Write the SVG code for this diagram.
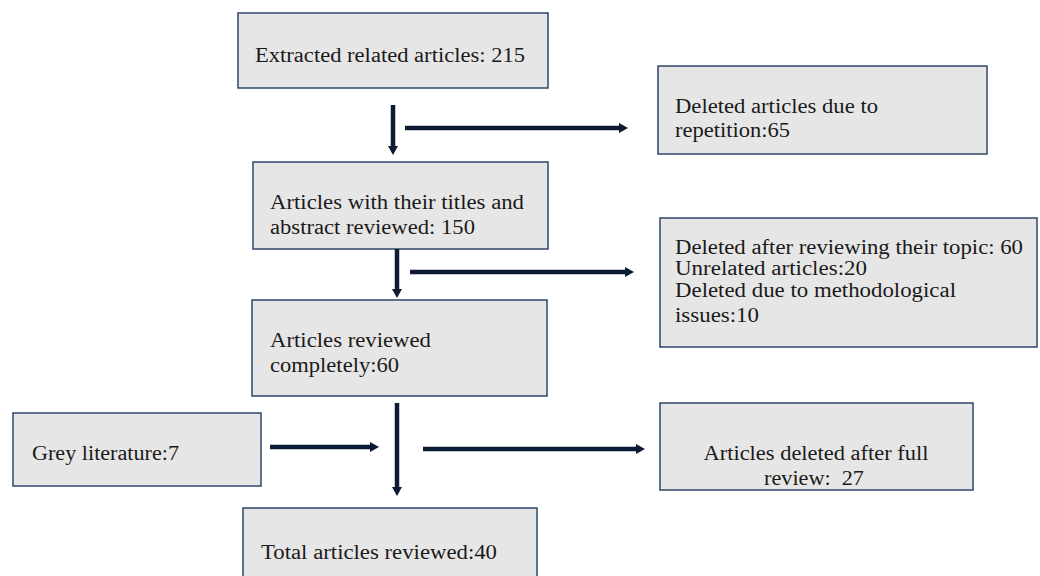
<svg xmlns="http://www.w3.org/2000/svg" width="1040" height="576" viewBox="0 0 1040 576">
<style>
.box{fill:#e7e6e6;stroke:#2f4668;stroke-width:1.5}
.t{font-family:'Liberation Serif','Times New Roman',Tinos,serif;font-size:20px;fill:#1a1a1a}
.c{text-anchor:middle}
.arr{stroke:#0d1a33;stroke-width:4.5;fill:none;marker-end:url(#ah)}
</style>
<defs>
<marker id="ah" markerUnits="userSpaceOnUse" markerWidth="12" markerHeight="12" viewBox="0 0 12 12" refX="3" refY="6" orient="auto">
<path d="M0,1 L9,6 L0,11 Z" fill="#0d1a33"/>
</marker>
</defs>
<rect width="1040" height="576" fill="#ffffff"/>
<g font-family="Liberation Serif, serif">
<g id="n1">
<rect class="box" x="238" y="13" width="310" height="75"/>
<text class="t" x="255" y="62" textLength="270" lengthAdjust="spacingAndGlyphs">Extracted related articles: 215</text>
</g>
<g id="n2">
<rect class="box" x="658" y="66" width="329" height="88"/>
<text class="t" x="675" y="113" textLength="203" lengthAdjust="spacingAndGlyphs">Deleted articles due to</text>
<text class="t" x="675" y="137" textLength="115" lengthAdjust="spacingAndGlyphs">repetition:65</text>
</g>
<g id="n3">
<rect class="box" x="253" y="162" width="295" height="87"/>
<text class="t" x="270" y="209" textLength="254" lengthAdjust="spacingAndGlyphs">Articles with their titles and</text>
<text class="t" x="270" y="234" textLength="205" lengthAdjust="spacingAndGlyphs">abstract reviewed: 150</text>
</g>
<g id="n4">
<rect class="box" x="660" y="218" width="377" height="129"/>
<text class="t" x="675" y="254" textLength="348" lengthAdjust="spacingAndGlyphs">Deleted after reviewing their topic: 60</text>
<text class="t" x="675" y="275" textLength="192" lengthAdjust="spacingAndGlyphs">Unrelated articles:20</text>
<text class="t" x="675" y="297" textLength="281" lengthAdjust="spacingAndGlyphs">Deleted due to methodological</text>
<text class="t" x="675" y="322" textLength="84" lengthAdjust="spacingAndGlyphs">issues:10</text>
</g>
<g id="n5">
<rect class="box" x="252" y="300" width="295" height="96"/>
<text class="t" x="270" y="347" textLength="161" lengthAdjust="spacingAndGlyphs">Articles reviewed</text>
<text class="t" x="270" y="372" textLength="129" lengthAdjust="spacingAndGlyphs">completely:60</text>
</g>
<g id="n6">
<rect class="box" x="13" y="413" width="248" height="73"/>
<text class="t" x="32" y="460" textLength="147" lengthAdjust="spacingAndGlyphs">Grey literature:7</text>
</g>
<g id="n7">
<rect class="box" x="660" y="403" width="313" height="87"/>
<text class="t c" x="816" y="460" textLength="225" lengthAdjust="spacingAndGlyphs">Articles deleted after full</text>
<text class="t c" x="814" y="485" xml:space="preserve" style="white-space:pre" textLength="100" lengthAdjust="spacingAndGlyphs">review:  27</text>
</g>
<g id="n8">
<rect class="box" x="243" y="508" width="294" height="80"/>
<text class="t" x="261" y="559" textLength="236" lengthAdjust="spacingAndGlyphs">Total articles reviewed:40</text>
</g>
</g>
<g id="connectors">
<line class="arr" x1="393" y1="105" x2="393" y2="149"/>
<line class="arr" x1="405" y1="128" x2="622" y2="128"/>
<line class="arr" x1="397" y1="249" x2="397" y2="292"/>
<line class="arr" x1="410" y1="272" x2="628" y2="272"/>
<line class="arr" x1="397" y1="403" x2="397" y2="490"/>
<line class="arr" x1="270" y1="447" x2="373" y2="447"/>
<line class="arr" x1="423" y1="449" x2="639" y2="449"/>
</g>
</svg>
